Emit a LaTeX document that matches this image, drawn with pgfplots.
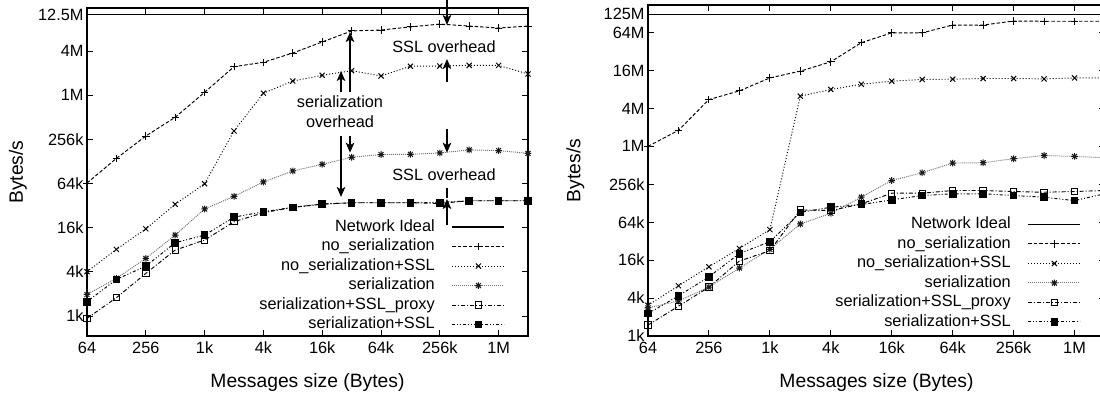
\documentclass[border=0pt]{standalone}
\usepackage{fontspec}
\setmainfont{Liberation Sans}
\usepackage{pgfplots}
\pgfplotsset{compat=1.18}
\usepackage{pgfplotstable}
\usetikzlibrary{arrows.meta}

% y values in kBytes/s (units of 1024 Bytes/s)
\pgfplotstableread{
x        ns     nsssl  ser    proxy  ssl
64       64.9   4.03   1.97   0.93   1.57
128      141    8.11   3.27   1.78   3.16
256      284    15.45  6.1    3.81   4.79
512      512    33.4   12.7   7.94   9.99
1024     1121   63.6   28.8   10.85  12.7
2048     2504   333    42.8   19.3   22.3
4096     2876   1090   67.2   25.6   26.4
8192     3848   1596   95     30.3   30.3
16384    5442   1911   117    33.6   33.6
32768    7696   2210   146    35.0   35.0
65536    7913   1872   159    35.0   35.0
131072   8720   2539   160    35.0   35.0
262144   9541   2557   167    34.3   35.5
524288   8964   2610   184    37.3   37.3
1048576  8421   2610   180    37.3   37.3
2097152  8964   1992   165    37.3   37.3
}\lefttab

\pgfplotstableread{
x        ns      nsssl  ser    proxy  ssl
64       1024    3.07   2.79   1.49   2.27
128      1846    6.28   3.6    2.97   4.34
256      5673    12.55  5.98   5.97   8.70
512      7804    24.6   11.96  15.5   20.4
1024     12503   48.8   23.75  22.6   31.4
2048     16047   6427   60.1   100.4  91.8
4096     22537   8192   88.6   97.9   110.6
8192     45384   9947   159.8  125    122
16384    65083   11113  294    185    145
32768    65083   11830  390.7  185    170
65536    86475   11952  556.4  204    181
131072   86475   12245  564    204    181
262144   100030  12245  652.5  197    170
524288   99333   12077  734    191.5  159.8
1048576  99333   12503  709    197    141
2097152  99333   12550  676    204    182
}\righttab

\pgfdeclareplotmark{gpstar}{%
  \pgfpathmoveto{\pgfqpoint{-\pgfplotmarksize}{0pt}}\pgfpathlineto{\pgfqpoint{\pgfplotmarksize}{0pt}}%
  \pgfpathmoveto{\pgfqpoint{0pt}{-\pgfplotmarksize}}\pgfpathlineto{\pgfqpoint{0pt}{\pgfplotmarksize}}%
  \pgfpathmoveto{\pgfqpoint{-.75\pgfplotmarksize}{-.75\pgfplotmarksize}}\pgfpathlineto{\pgfqpoint{.75\pgfplotmarksize}{.75\pgfplotmarksize}}%
  \pgfpathmoveto{\pgfqpoint{-.75\pgfplotmarksize}{.75\pgfplotmarksize}}\pgfpathlineto{\pgfqpoint{.75\pgfplotmarksize}{-.75\pgfplotmarksize}}%
  \pgfusepathqstroke}

\newcommand{\tfont}{\fontsize{16.3}{19}\selectfont}
\newcommand{\lfont}{\fontsize{19.3}{23}\selectfont}

\tikzset{
  ann/.style={line width=1.7pt, -{Stealth[length=10pt,width=8.5pt,inset=2.5pt]}},
  ideal/.style={black, line width=1.3pt},
  s1/.style={black, line width=0.95pt, dash pattern=on 3.5pt off 2pt, mark=+, mark size=3.7pt, mark options={solid}},
  s2/.style={black, line width=0.95pt, dash pattern=on 1pt off 2pt, mark=x, mark size=3.6pt, mark options={solid, line width=1pt}},
  s3/.style={black!55, line width=0.95pt, dash pattern=on 1pt off 1pt, mark=gpstar, mark size=3.3pt, mark options={solid, black!90, line width=1pt}},
  s4/.style={black, line width=0.95pt, dash pattern=on 4pt off 2pt on 1pt off 2pt, mark=square, mark size=3.2pt, mark options={solid, fill=white}},
  s5/.style={black, line width=0.95pt, dash pattern=on 3pt off 2pt on 1pt off 2pt on 1pt off 2pt, mark=square*, mark size=3.3pt, mark options={solid}},
}

\pgfplotsset{
  every axis/.append style={
    scale only axis, clip=false,
    log basis x=2, log basis y=2,
    xmin=64, xmax=2097152,
    xtick={64,256,1024,4096,16384,65536,262144,1048576},
    xticklabels={64,256,1k,4k,16k,64k,256k,1M},
    xminorticks=false, yminorticks=false,
    tick align=inside, major tick length=6pt,
    axis line style={line width=1.1pt},
    every tick/.style={line width=0.9pt, black},
    tick label style={font=\tfont},
    xticklabel style={yshift=-2.5pt},
    xlabel={Messages size (Bytes)}, ylabel={Bytes/s},
    label style={font=\lfont},
    xlabel style={at={([yshift=-47pt]rel axis cs:0.5,0)}, anchor=center},
    legend plot pos=right,
    legend cell align=right,
    legend image code/.code={\draw[mark repeat=2,mark phase=2,#1] plot coordinates {(0pt,0pt) (26pt,0pt) (52pt,0pt)};},
    legend style={draw=none, fill=none, inner sep=0pt, outer sep=0pt, font=\tfont,
      row sep=0pt, column sep=16pt,
      nodes={inner xsep=1pt, inner ysep=2pt, text height=12pt, text depth=3.5pt}},
  },
}

\begin{document}
\begin{tikzpicture}
\useasboundingbox (0,0) rectangle (1100pt,395pt);

% ---------------- left ----------------
\begin{axis}[xmode=log, ymode=log, at={(87pt,59pt)}, anchor=south west, width=441pt, height=328pt,
  ymin=0.535, ymax=15800,
  ytick={1,4,16,64,256,1024,4096,12800},
  yticklabels={1k,4k,16k,64k,256k,1M,4M,12.5M},
  ylabel style={at={([xshift=-69pt]rel axis cs:0,0.5)}, anchor=center},
  legend style={at={(rel axis cs:0.948,0.005)}, anchor=south east}]
\addplot[ideal] coordinates {(64,12800) (2097152,12800)};
\addlegendentry{Network Ideal}
\addplot[s1] table[x=x,y=ns] {\lefttab};
\addlegendentry{no\_serialization}
\addplot[s2] table[x=x,y=nsssl] {\lefttab};
\addlegendentry{no\_serialization+SSL}
\addplot[s3] table[x=x,y=ser] {\lefttab};
\addlegendentry{serialization}
\addplot[s4] table[x=x,y=proxy] {\lefttab};
\addlegendentry{serialization+SSL\_proxy}
\addplot[s5] table[x=x,y=ssl] {\lefttab};
\addlegendentry{serialization+SSL}

\node[font=\tfont] at (rel axis cs:0.8095,0.8811) {SSL overhead};
\node[font=\tfont] at (rel axis cs:0.8095,0.4909) {SSL overhead};
\node[font=\tfont] at (rel axis cs:0.5737,0.7134) {serialization};
\node[font=\tfont] at (rel axis cs:0.5737,0.6524) {overhead};

\draw[ann] (rel axis cs:0.8163,1.03) -- (rel axis cs:0.8163,0.9482);
\draw[ann] (rel axis cs:0.8163,0.7744) -- (rel axis cs:0.8163,0.8445);
\draw[ann] (rel axis cs:0.8163,0.6311) -- (rel axis cs:0.8163,0.5588);
\draw[ann] (rel axis cs:0.8163,0.3384) -- (rel axis cs:0.8163,0.4177);
\draw[line width=1.7pt] (rel axis cs:0.8163,0.42) -- (rel axis cs:0.8163,0.4512);
\draw[ann] (rel axis cs:0.5760,0.7439) -- (rel axis cs:0.5760,0.8079);
\draw[ann] (rel axis cs:0.5964,0.7439) -- (rel axis cs:0.5964,0.9268);
\draw[ann] (rel axis cs:0.5760,0.6098) -- (rel axis cs:0.5760,0.4238);
\draw[ann] (rel axis cs:0.5964,0.6098) -- (rel axis cs:0.5964,0.5588);
\end{axis}

% ---------------- right ----------------
\begin{axis}[xmode=log, ymode=log, at={(648pt,59pt)}, anchor=south west, width=457pt, height=331pt,
  ymin=1, ymax=180000,
  ytick={1,4,16,64,256,1024,4096,16384,65536,128000},
  yticklabels={1k,4k,16k,64k,256k,1M,4M,16M,64M,125M},
  ylabel style={at={([xshift=-72.5pt]rel axis cs:0,0.5)}, anchor=center},
  legend style={at={(rel axis cs:0.9475,0.013)}, anchor=south east}]
\addplot[ideal] coordinates {(64,128000) (2097152,128000)};
\addlegendentry{Network Ideal}
\addplot[s1] table[x=x,y=ns] {\righttab};
\addlegendentry{no\_serialization}
\addplot[s2] table[x=x,y=nsssl] {\righttab};
\addlegendentry{no\_serialization+SSL}
\addplot[s3] table[x=x,y=ser] {\righttab};
\addlegendentry{serialization}
\addplot[s4] table[x=x,y=proxy] {\righttab};
\addlegendentry{serialization+SSL\_proxy}
\addplot[s5] table[x=x,y=ssl] {\righttab};
\addlegendentry{serialization+SSL}
\end{axis}
\end{tikzpicture}
\end{document}
